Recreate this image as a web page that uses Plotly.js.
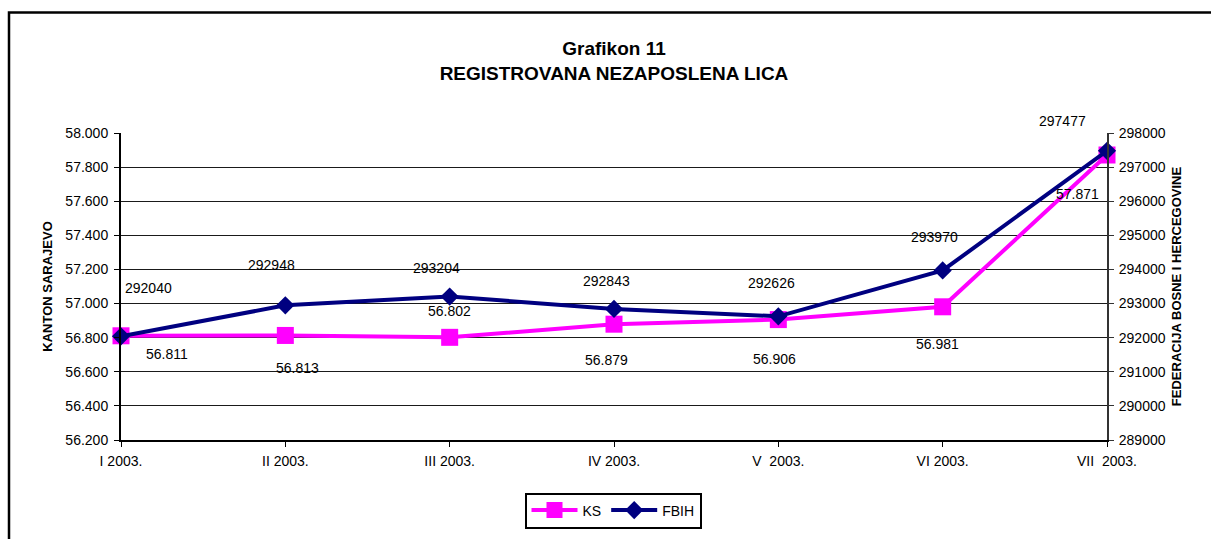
<!DOCTYPE html>
<html>
<head>
<meta charset="utf-8">
<script src="https://cdn.plot.ly/plotly-3.0.1.min.js"></script>
<style>
html,body{margin:0;padding:0;background:#fff;}
#chart{width:1211px;height:539px;}
</style>
</head>
<body>
<div id="chart"></div>
<script>
// ---- data ----
var categories = ["I 2003.", "II 2003.", "III 2003.", "IV 2003.", "V\u00a0 2003.", "VI 2003.", "VII\u00a0 2003."];
var ksValues = [56811, 56813, 56802, 56879, 56906, 56981, 57871];      // Kanton Sarajevo
var fbihValues = [292040, 292948, 293204, 292843, 292626, 293970, 297477]; // FBiH
var seriesNames = ["KS", "FBIH"];

// ---- label placement (pixel offsets from each point) ----
var ksLabelShift = [[46,-18],[12,-33],[0,26],[-8,-36],[-4,-39],[-5,-37],[-30,-39]];
var fbihLabelShift = [[27,48],[-14,40],[-13,29],[-8,28],[-7,33],[-8,33],[-45,30]];

var W = 1211, H = 539;
var M = {l:121, r:104, t:133, b:98};
var plotW = W - M.l - M.r, plotH = H - M.t - M.b;
function px2paperX(px){ return (px - M.l) / plotW; }
function px2paperY(py){ return (H - M.b - py) / plotH; }

function fmtThousands(v){
  return String(v).replace(/\B(?=(\d{3})+(?!\d))/g, ".");
}

var font = "Liberation Sans, Arial, sans-serif";

var traces = [
  {
    x: categories, y: ksValues, name: seriesNames[0], type: "scatter", mode: "lines+markers",
    line: {color: "#FF00FF", width: 4},
    marker: {symbol: "square", size: 17, color: "#FF00FF"},
    cliponaxis: false, yaxis: "y", hoverinfo: "x+y"
  },
  {
    x: categories, y: fbihValues, name: seriesNames[1], type: "scatter", mode: "lines+markers",
    line: {color: "#000080", width: 4},
    marker: {symbol: "diamond", size: 14, color: "#000080"},
    cliponaxis: false, yaxis: "y2", hoverinfo: "x+y"
  }
];

var annotations = [];
ksValues.forEach(function(v, i){
  annotations.push({
    x: categories[i], y: v, xref: "x", yref: "y", text: fmtThousands(v),
    showarrow: false, xshift: ksLabelShift[i][0], yshift: ksLabelShift[i][1],
    font: {family: font, size: 14, color: "#000"}
  });
});
fbihValues.forEach(function(v, i){
  annotations.push({
    x: categories[i], y: v, xref: "x", yref: "y2", text: String(v),
    showarrow: false, xshift: fbihLabelShift[i][0], yshift: fbihLabelShift[i][1],
    font: {family: font, size: 14, color: "#000"}
  });
});

var layout = {
  width: W, height: H,
  margin: {l: M.l, r: M.r, t: M.t, b: M.b, pad: 0},
  paper_bgcolor: "#fff", plot_bgcolor: "#fff",
  separators: ",.",
  font: {family: font, size: 14, color: "#000"},
  showlegend: true,
  title: {
    text: "<b>Grafikon 11</b><br><b>REGISTROVANA NEZAPOSLENA LICA</b>",
    font: {family: font, size: 19, color: "#000"},
    xref: "paper", x: 0.5, xanchor: "center",
    yref: "container", y: 1 - 55 / H, yanchor: "middle"
  },
  xaxis: {
    type: "category", range: [0, categories.length - 1],
    showline: true, linecolor: "#000", linewidth: 1.5,
    ticks: "outside", ticklen: 5, tickcolor: "#000", tickwidth: 1,
    showgrid: false, zeroline: false,
    tickfont: {family: font, size: 14, color: "#000"},
    ticklabelstandoff: 3
  },
  yaxis: {
    range: [56200, 58000], dtick: 200, tick0: 56200, tickformat: ",d",
    showline: true, linecolor: "#000", linewidth: 2,
    ticks: "outside", ticklen: 5, tickcolor: "#000", tickwidth: 1,
    showgrid: true, gridcolor: "#1a1a1a", gridwidth: 1, zeroline: false,
    tickfont: {family: font, size: 14, color: "#000"},
    ticklabelstandoff: 3,
    title: {text: "<b>KANTON SARAJEVO</b>", font: {family: font, size: 13, color: "#000"}, standoff: 10}
  },
  yaxis2: {
    overlaying: "y", side: "right",
    range: [289000, 298000], dtick: 1000, tick0: 289000, tickformat: "d",
    showline: true, linecolor: "#333", linewidth: 2,
    ticks: "outside", ticklen: 5, tickcolor: "#333", tickwidth: 1,
    showgrid: false, zeroline: false,
    tickfont: {family: font, size: 14, color: "#000"},
    ticklabelstandoff: 2,
    title: {text: "<b>FEDERACIJA BOSNE I HERCEGOVINE</b>", font: {family: font, size: 13, color: "#000"}, standoff: 7}
  },
  legend: {
    orientation: "h", x: px2paperX(613), xanchor: "center", y: px2paperY(510.5), yanchor: "middle",
    bgcolor: "#fff", bordercolor: "#000", borderwidth: 2,
    font: {family: font, size: 14, color: "#000"},
    itemwidth: 46, tracegroupgap: 0
  },
  annotations: annotations,
  shapes: [{
    type: "rect", xref: "paper", yref: "paper",
    x0: px2paperX(9), x1: px2paperX(W + 20),
    y0: px2paperY(12), y1: px2paperY(H + 20),
    line: {color: "#000", width: 2.5}, fillcolor: "rgba(0,0,0,0)", layer: "below"
  }]
};

Plotly.newPlot("chart", traces, layout, {staticPlot: true, displayModeBar: false});
</script>
</body>
</html>
